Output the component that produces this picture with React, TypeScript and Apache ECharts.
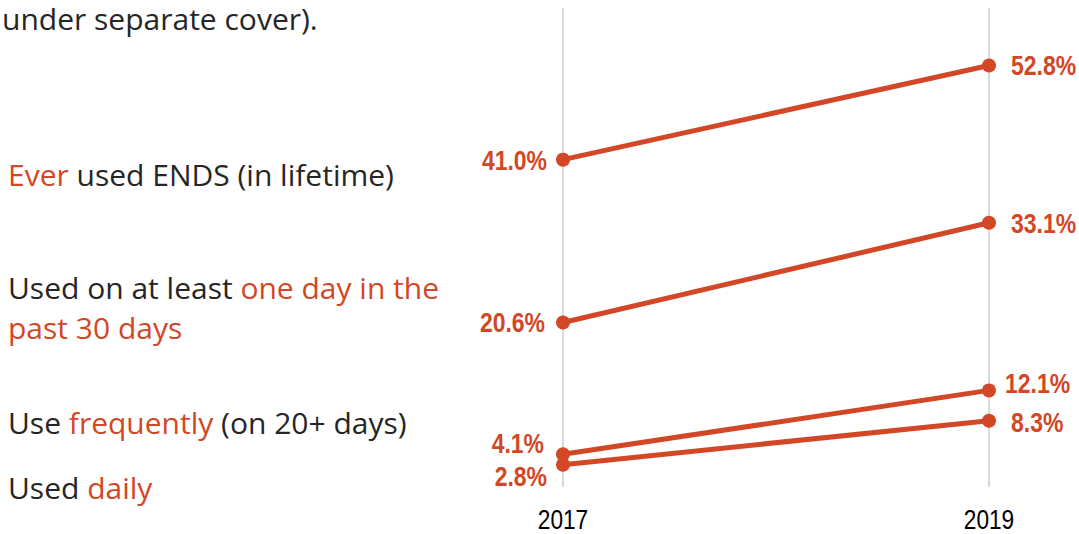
import React, { useEffect, useRef } from "react";
import * as echarts from "echarts";

const years = ["2017", "2019"];
const everUsed = [41.0, 52.8];
const past30Days = [20.6, 33.1];
const frequently = [4.1, 12.1];
const daily = [2.8, 8.3];

const ORANGE = "#D24726";
const DARK = "#262626";
const LEFT_FONT = "'Open Sans', 'Noto Sans', sans-serif";
const NUM_FONT = "'Liberation Sans', Arial, sans-serif";

export default function App() {
  const ref = useRef<HTMLDivElement>(null);
  useEffect(() => {
    if (!ref.current) return;
    const chart = echarts.init(ref.current, undefined, { renderer: "svg" });
    const seriesDefs = [
      { name: "Ever used", data: everUsed },
      { name: "Past 30 days", data: past30Days },
      { name: "Frequently", data: frequently },
      { name: "Daily", data: daily },
    ];
    // label nudges [dx, dy] per series, per year (style only)
    const nudges = [
      [[0, 0], [0, 0]],
      [[-2, 0], [0, 0]],
      [[-3, -11], [-6, -7]],
      [[0, 12], [0, 1]],
    ];
    const labelData: number[][] = [];
    seriesDefs.forEach((s, si) => {
      s.data.forEach((v, i) => labelData.push([i, v, si]));
    });
    const rich = {
      o: { fill: ORANGE, fontFamily: LEFT_FONT, fontSize: 30 },
      d: { fill: DARK, fontFamily: LEFT_FONT, fontSize: 30 },
    };
    const leftText = (x: number, y: number, text: string, lh = 40) => ({
      type: "text",
      left: x,
      top: y,
      style: {
        text,
        rich,
        fontFamily: LEFT_FONT,
        fontSize: 30,
        fill: DARK,
        lineHeight: lh,
      },
    });
    chart.setOption({
      animation: false,
      backgroundColor: "#ffffff",
      grid: { left: 563, right: 90, top: 8, bottom: 47, containLabel: false },
      xAxis: {
        type: "category",
        data: years,
        boundaryGap: false,
        axisLine: { show: false },
        axisTick: { show: false },
        splitLine: { show: true, lineStyle: { color: "#d9d9d9", width: 2 } },
        axisLabel: { show: false },
      },
      yAxis: {
        type: "value",
        min: 0,
        max: 60,
        show: false,
        splitLine: { show: false },
      },
      series: [
        ...seriesDefs.map((s) => ({
          name: s.name,
          type: "line",
          symbol: "circle",
          symbolSize: 14,
          lineStyle: { color: ORANGE, width: 5 },
          itemStyle: { color: ORANGE },
          data: s.data,
        })),
        {
          name: "labels",
          type: "custom",
          clip: false,
          silent: true,
          data: labelData,
          renderItem: (params: any, api: any) => {
            const i = api.value(0);
            const v = api.value(1);
            const si = api.value(2);
            const pt = api.coord([i, v]);
            const n = nudges[si][i];
            const left = i === 0;
            return {
              type: "text",
              x: pt[0] + (left ? -16 : 22) + n[0],
              y: pt[1] + n[1],
              scaleX: 0.82,
              style: {
                text: Number(v).toFixed(1) + "%",
                fill: ORANGE,
                fontFamily: NUM_FONT,
                fontWeight: "bold",
                fontSize: 28,
                align: left ? "right" : "left",
                verticalAlign: "middle",
              },
            };
          },
        },
        {
          name: "years",
          type: "custom",
          clip: false,
          silent: true,
          data: years.map((y, i) => [i, 0]),
          renderItem: (params: any, api: any) => {
            const i = api.value(0);
            const pt = api.coord([i, 0]);
            return {
              type: "text",
              x: pt[0],
              y: pt[1] + 32,
              scaleX: 0.84,
              style: {
                text: years[i],
                fill: "#000000",
                fontFamily: NUM_FONT,
                fontSize: 27,
                lineHeight: 22,
                align: "center",
                verticalAlign: "middle",
              },
            };
          },
        },
      ],
      graphic: [
        leftText(2, 3, "{d|under separate cover).}", 30),
        leftText(8, 154, "{o|Ever}{d| used ENDS (in lifetime)}"),
        leftText(8, 267, "{d|Used on at least }{o|one day in the}\n{o|past 30 days}"),
        leftText(8, 402, "{d|Use }{o|frequently}{d| (on 20+ days)}"),
        leftText(8, 467, "{d|Used }{o|daily}"),
      ],
    });
    return () => chart.dispose();
  }, []);
  return (
    <div
      ref={ref}
      style={{ position: "fixed", left: 0, top: 0, width: 1079, height: 534, background: "#fff" }}
    />
  );
}
